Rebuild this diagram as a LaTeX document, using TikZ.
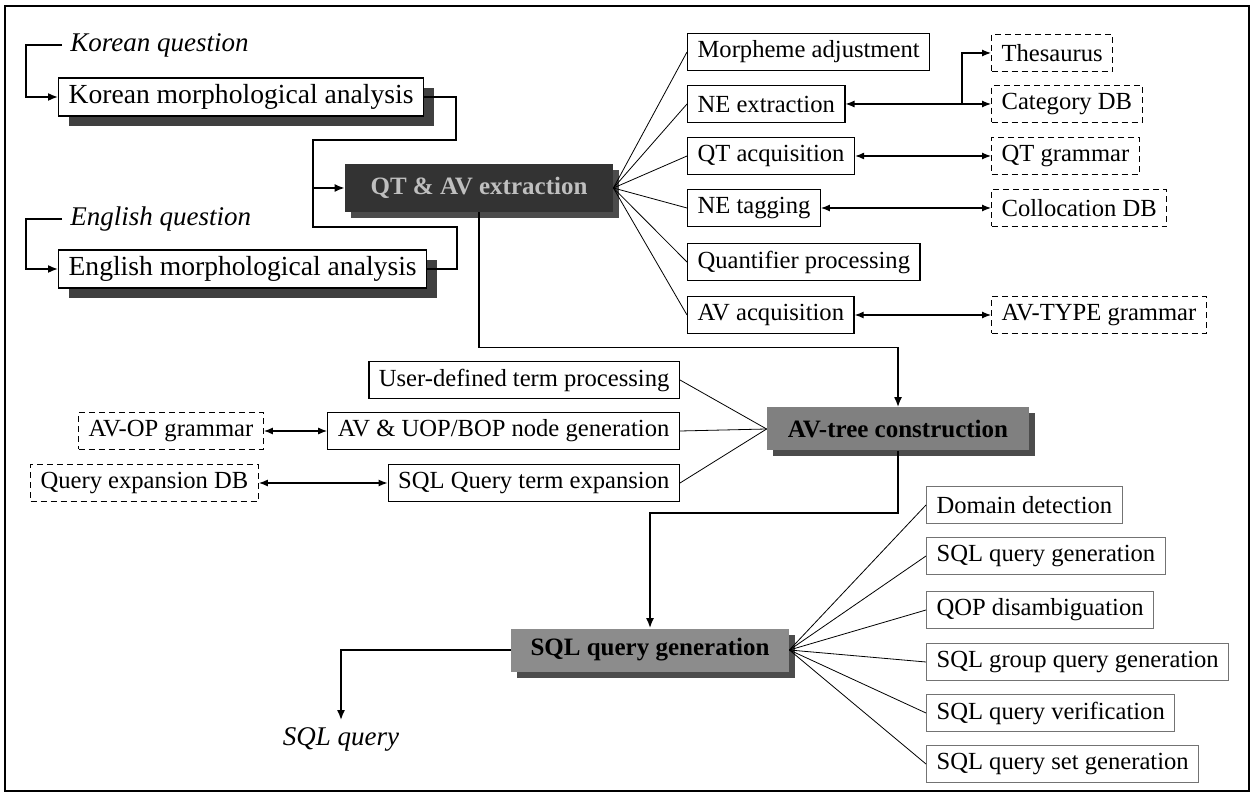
\documentclass[tikz,border=0pt]{standalone}
\usepackage{fontspec}
\setmainfont{Liberation Serif}
\usetikzlibrary{arrows.meta, shadows, calc}

\tikzset{
  box/.style={draw, line width=0.6pt, fill=white, inner xsep=5pt, inner ysep=0pt, minimum height=18.5pt, font=\fontsize{12.3}{14}\selectfont},
  bigbox/.style={box, minimum height=19pt, font=\fontsize{13.8}{16}\selectfont, drop shadow={shadow xshift=5pt, shadow yshift=-5pt, fill=black!75, opacity=1}},
  dbbox/.style={box, dashed, dash pattern=on 3pt off 2pt},
  subbox/.style={box, draw=black!55},
  darkbox/.style={inner sep=0pt, font=\bfseries\fontsize{12.5}{14}\selectfont, drop shadow={shadow xshift=3pt, shadow yshift=-3pt, fill=black!70, opacity=1}},
  qlabel/.style={inner xsep=4pt, font=\itshape\fontsize{13.5}{16}\selectfont},
  arr/.style={line width=0.8pt, -{Latex[length=5pt,width=4pt]}},
  biarr/.style={line width=0.6pt, {Latex[length=4.5pt,width=3.5pt]}-{Latex[length=4.5pt,width=3.5pt]}},
  fan/.style={line width=0.4pt},
}

\begin{document}
\begin{tikzpicture}[x=0.5pt, y=-0.5pt]
  \useasboundingbox (0,0) rectangle (1257,801);
  \draw[line width=0.8pt] (5,6) rectangle (1249,791);

  % input side
  \node[qlabel, anchor=west] (kq) at (62,45) {Korean question};
  \node[bigbox, anchor=west] (kma) at (58,97) {Korean morphological analysis};
  \node[qlabel, anchor=west] (eq) at (62,219) {English question};
  \node[bigbox, anchor=west] (ema) at (58,269) {English morphological analysis};

  \node[darkbox, fill=black!80, text=black!25, minimum width=134pt, minimum height=24pt] (qa) at (479,188) {QT \& AV extraction};

  % question analysis steps
  \node[box, anchor=west] (morph) at (687,52) {Morpheme adjustment};
  \node[box, anchor=west] (neext) at (687,104) {NE extraction};
  \node[box, anchor=west] (qtacq) at (687,156) {QT acquisition};
  \node[box, anchor=west] (netag) at (687,208) {NE tagging};
  \node[box, anchor=west] (quant) at (687,262) {Quantifier processing};
  \node[box, anchor=west] (avacq) at (687,315) {AV acquisition};

  \node[dbbox, anchor=west] (thes) at (991,53) {Thesaurus};
  \node[dbbox, anchor=west] (catdb) at (991,104) {Category DB};
  \node[dbbox, anchor=west] (qtgram) at (991,156) {QT grammar};
  \node[dbbox, anchor=west] (colldb) at (991,208) {Collocation DB};
  \node[dbbox, anchor=west] (avtype) at (991,315) {AV-TYPE grammar};

  % AV-tree part
  \node[box, anchor=east] (udt) at (680,380) {User-defined term processing};
  \node[box, anchor=east] (avgen) at (680,431) {AV \& UOP/BOP node generation};
  \node[box, anchor=east] (sqlte) at (680,483) {SQL Query term expansion};
  \node[dbbox, anchor=west] (avopg) at (78,431) {AV-OP grammar};
  \node[dbbox, anchor=west] (qedb) at (30,483) {Query expansion DB};

  \node[darkbox, fill=black!50, minimum width=131pt, minimum height=21.5pt] (avtree) at (898,429) {AV-tree construction};

  % SQL part
  \node[darkbox, fill=black!45, minimum width=139pt, minimum height=21.5pt] (sqlgen) at (650,650) {SQL query generation};
  \node[subbox, anchor=west] (dom) at (926,505) {Domain detection};
  \node[subbox, anchor=west] (sqlq1) at (926,556) {SQL query generation};
  \node[subbox, anchor=west] (qop) at (926,610) {QOP disambiguation};
  \node[subbox, anchor=west] (grpq) at (926,662) {SQL group query generation};
  \node[subbox, anchor=west] (verif) at (926,713) {SQL query verification};
  \node[subbox, anchor=west] (setgen) at (926,764) {SQL query set generation};
  \node[qlabel] (sqlq) at (341,739) {SQL query};

  % main flow
  \draw[arr] (kq.west) -- ++(-36,0) |- (kma.west);
  \draw[arr] (eq.west) -- ++(-36,0) |- (ema.west);
  \draw[arr] (kma.east) -- ++(32,0) |- (313,140) |- (qa.west);
  \draw[line width=0.8pt] (ema.east) -- ++(30,0) |- (313,227) -- (313,188);
  \draw[arr] (qa.south) -- ++(0,135) -| (avtree.north);
  \draw[arr] (avtree.south) -- ++(0,62) -| (sqlgen.north);
  \draw[arr] (sqlgen.west) -| (sqlq.north);

  % fans
  \foreach \n in {morph,neext,qtacq,netag,quant,avacq}
    \draw[fan] (qa.east) -- (\n.west);
  \foreach \n in {udt,avgen,sqlte}
    \draw[fan] (\n.east) -- (avtree.west);
  \foreach \n in {dom,sqlq1,qop,grpq,verif,setgen}
    \draw[fan] (sqlgen.east) -- (\n.west);

  % resources
  \draw[biarr] (neext.east) -- (catdb.west);
  \path (neext.east) -- coordinate[pos=0.8] (br) (catdb.west);
  \draw[line width=0.6pt, -{Latex[length=4.5pt,width=3.5pt]}] (br) |- (thes.west);
  \draw[biarr] (qtacq.east) -- (qtgram.west);
  \draw[biarr] (netag.east) -- (colldb.west);
  \draw[biarr] (avacq.east) -- (avtype.west);
  \draw[biarr] (avopg.east) -- (avgen.west);
  \draw[biarr] (qedb.east) -- (sqlte.west);
\end{tikzpicture}
\end{document}
